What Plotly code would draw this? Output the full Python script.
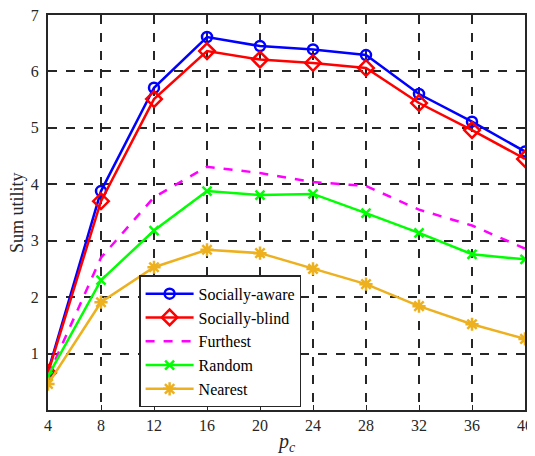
import plotly.graph_objects as go

x_vals = [4, 8, 12, 16, 20, 24, 28, 32, 36, 40]
socially_aware = [0.68, 3.88, 5.71, 6.61, 6.45, 6.39, 6.29, 5.60, 5.11, 4.58]
socially_blind = [0.66, 3.70, 5.51, 6.36, 6.21, 6.15, 6.06, 5.44, 4.96, 4.45]
furthest = [0.60, 2.70, 3.77, 4.31, 4.20, 4.04, 3.97, 3.55, 3.27, 2.86]
random_sel = [0.60, 2.30, 3.18, 3.88, 3.81, 3.83, 3.49, 3.14, 2.76, 2.67]
nearest = [0.46, 1.91, 2.53, 2.84, 2.78, 2.50, 2.23, 1.84, 1.52, 1.26]
x_ticks = [4, 8, 12, 16, 20, 24, 28, 32, 36, 40]
y_ticks = [1, 2, 3, 4, 5, 6, 7]

FONT = "Liberation Serif"

fig = go.Figure()
series = [
    ("Socially-aware", socially_aware, "#0000FF", "solid", "circle-open", 10),
    ("Socially-blind", socially_blind, "#FF0000", "solid", "diamond-open", 12),
    ("Furthest", furthest, "#FF00FF", "dash", None, 0),
    ("Random", random_sel, "#00FF00", "solid", "x-thin-open", 9),
    ("Nearest", nearest, "#EDB120", "solid", "asterisk-open", 11),
]
for name, ys, color, dash, sym, size in series:
    if sym is None:
        fig.add_trace(go.Scatter(x=x_vals, y=ys, name=name, mode="lines",
                                 line=dict(color=color, width=2.5, dash=dash)))
    else:
        fig.add_trace(go.Scatter(x=x_vals, y=ys, name=name, mode="lines+markers",
                                 line=dict(color=color, width=2.5, dash=dash),
                                 marker=dict(symbol=sym, size=size, color=color,
                                             line=dict(color=color, width=2.5))))

# page body has an 8px default margin, so the figure is sized to fit the window
fig.update_layout(
    width=527, height=448,
    margin=dict(l=40, r=10, t=7, b=46, autoexpand=False),
    paper_bgcolor="white", plot_bgcolor="white",
    font=dict(family=FONT, size=16, color="#262626"),
    showlegend=True,
    legend=dict(x=0.191, y=0.007, xanchor="left", yanchor="bottom",
                bgcolor="white", bordercolor="#262626", borderwidth=1.5,
                font=dict(family=FONT, size=16, color="black"),
                tracegroupgap=0, itemwidth=48),
    annotations=[
        dict(text="<i>p</i><sub><i>c</i></sub>", xref="paper", yref="paper",
             x=0.5, y=-0.045, xanchor="center", yanchor="top", showarrow=False,
             font=dict(family=FONT, size=20, color="#262626")),
        dict(text="Sum utility", xref="paper", yref="paper",
             x=-0.066, y=0.5, xanchor="center", yanchor="middle", showarrow=False,
             textangle=-90, font=dict(family=FONT, size=18, color="#262626")),
    ],
)
fig.update_xaxes(
    range=[4, 40], tickvals=x_ticks, ticktext=[str(v) for v in x_ticks],
    showgrid=True, gridcolor="#262626", griddash="dash", gridwidth=1.5,
    showline=True, mirror=True, linecolor="#262626", linewidth=2,
    ticks="inside", ticklen=5, tickcolor="#262626", zeroline=False,
    automargin=False, ticklabeloverflow="allow",
    tickfont=dict(family=FONT, size=16),
)
fig.update_yaxes(
    range=[0, 7], tickvals=y_ticks, ticktext=[str(v) for v in y_ticks],
    showgrid=True, gridcolor="#262626", griddash="dash", gridwidth=1.5,
    showline=True, mirror=True, linecolor="#262626", linewidth=2,
    ticks="inside", ticklen=5, tickcolor="#262626", zeroline=False,
    ticklabelstandoff=4, automargin=False, ticklabeloverflow="allow",
    tickfont=dict(family=FONT, size=16),
)
fig.write_html("out.html")
